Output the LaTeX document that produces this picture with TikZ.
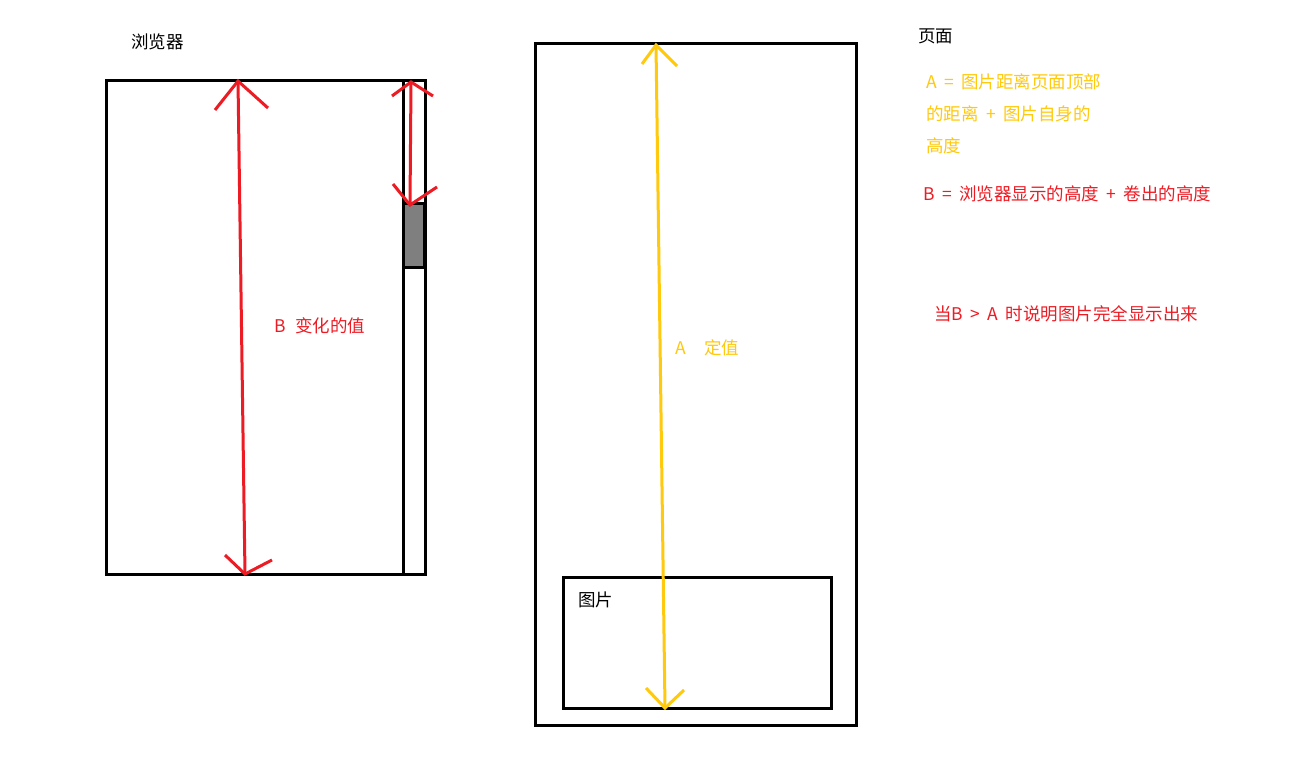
\documentclass[tikz,border=0pt]{standalone}
\usepackage{fontspec}
\setmainfont{Noto Sans CJK SC}
\definecolor{pred}{HTML}{ED1C24}
\definecolor{pyel}{HTML}{FFC90E}
\definecolor{pgray}{HTML}{7F7F7F}
\newcommand{\gapsp}{\hspace{0.42em}}
\begin{document}
\begin{tikzpicture}[x=1pt,y=-1pt,
  frame/.style={draw=black,line width=3pt},
  redline/.style={draw=pred,line width=3pt},
  yelline/.style={draw=pyel,line width=3pt},
  lbl/.style={anchor=west,inner sep=0pt,font=\fontsize{17.5}{20}\selectfont},
  txtblack/.style={lbl,text=black},
  txtred/.style={lbl,text=pred},
  txtyel/.style={lbl,text=pyel}]
\useasboundingbox (0,0) rectangle (1292,756);
\fill[white] (0,0) rectangle (1292,756);
% browser
\draw[frame] (106,80) rectangle (425,574);
\draw[frame] (403,80) -- (403,574);
\draw[frame,fill=pgray] (403,203) rectangle (424,267);
\node[txtblack] (browser) at (131,42) {浏览器};
% page
\draw[frame] (535,43) rectangle (856,725);
\draw[frame] (563,577) rectangle (831,708);
\node[txtblack] (img) at (578,600) {图片};
\node[txtblack] (page) at (918,36) {页面};
% red arrow B
\coordinate (bt) at (238,81);
\coordinate (bb) at (245,574);
\draw[redline] (bt) -- (bb);
\draw[redline] (215,110) -- (bt) -- (268,108);
\draw[redline] (225,555) -- (bb) -- (272,560);
% small red arrow in scrollbar
\coordinate (st) at (411,82);
\coordinate (sb) at (410,205);
\draw[redline] (st) -- (sb);
\draw[redline] (392,96) -- (st) -- (433,96);
\draw[redline] (393,184) -- (sb) -- (437,187);
\node[txtred] (bvar) at (274,326) {B\hspace{0.55em}变化的值};
% yellow arrow A
\coordinate (at) at (656,45);
\coordinate (ab) at (665,708);
\draw[yelline] (at) -- (ab);
\draw[yelline] (642,64) -- (at) -- (677,66);
\draw[yelline] (646,688) -- (ab) -- (684,690);
\node[txtyel] (aconst) at (675,348) {A\hspace{1.05em}定值};
% explanation
\node[txtyel] (a1) at (926,82) {A\gapsp=\gapsp 图片距离页面顶部};
\node[txtyel] (a2) at (926,114) {的距离\gapsp+\gapsp 图片自身的};
\node[txtyel] (a3) at (926,146) {高度};
\node[txtred] (bdef) at (923,194) {B\gapsp=\gapsp 浏览器显示的高度\gapsp+\gapsp 卷出的高度};
\node[txtred] (cond) at (934,314) {当B\gapsp>\gapsp A\gapsp 时说明图片完全显示出来};
\end{tikzpicture}
\end{document}
